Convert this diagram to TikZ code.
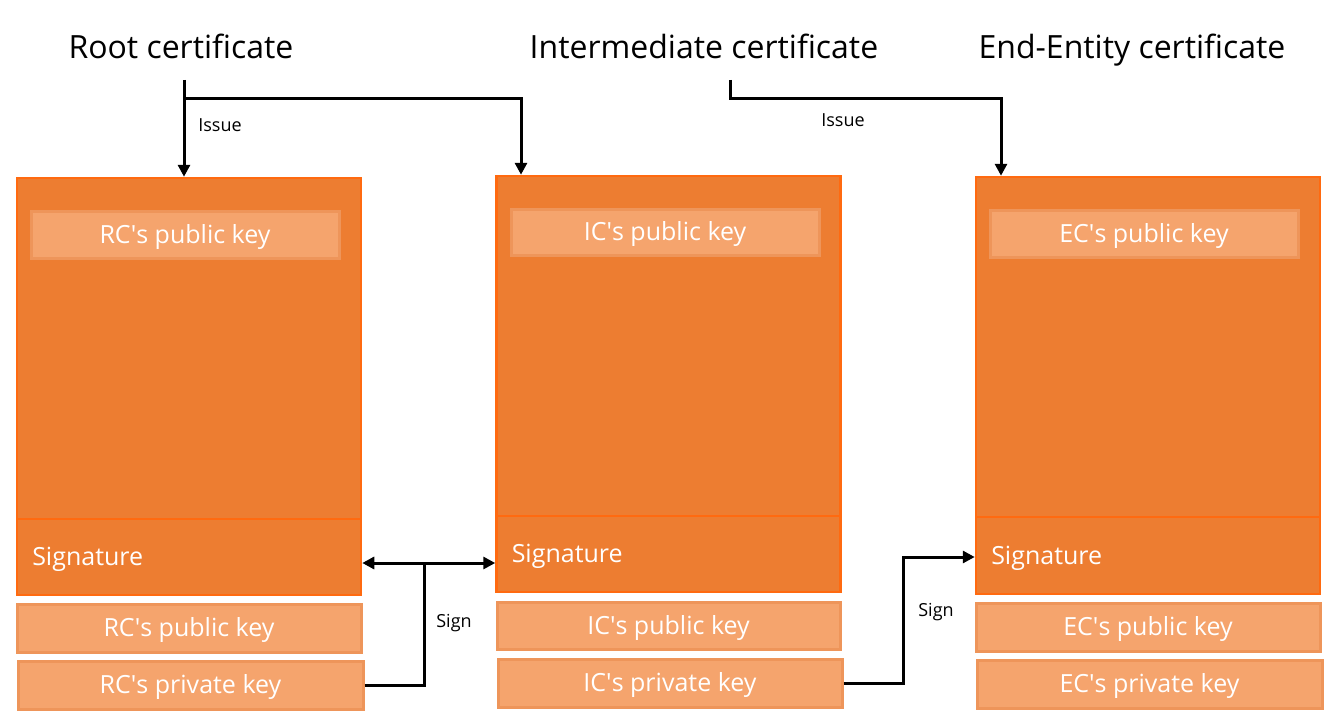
\documentclass[tikz,border=0pt]{standalone}
\usepackage{fontspec}
\setmainfont{Open Sans}
\usetikzlibrary{arrows.meta,positioning}
\definecolor{certorange}{HTML}{ED7D31}
\definecolor{certedge}{HTML}{FF6A10}
\definecolor{keyfill}{HTML}{F5A46D}
\definecolor{keyedge}{HTML}{EE955A}
\tikzset{
  certbody/.style={draw=certedge, line width=2.5pt, fill=certorange, minimum width=344pt, inner sep=0pt},
  keybox/.style={draw=keyedge, line width=3pt, fill=keyfill, text=white, font=\fontsize{25}{28}\selectfont,
    text height=18pt, text depth=1pt, inner sep=0pt},
  title/.style={font=\fontsize{32}{36}\selectfont, text height=23pt, text depth=7pt, inner sep=0pt},
  arr/.style={line width=3pt, -{Triangle[width=12pt,length=12pt]}},
  lbl/.style={font=\fontsize{18}{20}\selectfont, inner sep=0pt}
}

\begin{document}
\begin{tikzpicture}[x=1pt,y=-1pt]
   \useasboundingbox (0,0) rectangle (1344,717);
   % certificates
   \begin{scope}
    \node[certbody, minimum height=341pt] (rcbody) at (189,348.5) {};
    \node[certbody, minimum height=76pt]  (rcsig)  at (189,557) {};
    \node[certbody, minimum height=340pt] (icbody) at (668.5,346) {};
    \node[certbody, minimum height=76pt]  (icsig)  at (668.5,554) {};
    \node[certbody, minimum height=340pt] (ecbody) at (1148,347) {};
    \node[certbody, minimum height=77pt]  (ecsig)  at (1148,555.5) {};
   \end{scope}
   % signatures
   \node[keybox, draw=none, fill=none, anchor=west] at ([xshift=15pt]rcsig.west) {Signature};
   \node[keybox, draw=none, fill=none, anchor=west] at ([xshift=15pt]icsig.west) {Signature};
   \node[keybox, draw=none, fill=none, anchor=west] at ([xshift=15pt]ecsig.west) {Signature};
   % keys
   \node[keybox, minimum width=308pt, minimum height=47pt] (rcpubin) at (185,234.5) {RC\textquotesingle s public key};
   \node[keybox, minimum width=308pt, minimum height=46pt] (icpubin) at (665,232) {IC\textquotesingle s public key};
   \node[keybox, minimum width=308pt, minimum height=47pt] (ecpubin) at (1144,233.5) {EC\textquotesingle s public key};
   \node[keybox, minimum width=344pt, minimum height=48pt] (rcpub)  at (189,628) {RC\textquotesingle s public key};
   \node[keybox, minimum width=345pt, minimum height=48pt] (rcpriv) at (190.5,685) {RC\textquotesingle s private key};
   \node[keybox, minimum width=343pt, minimum height=47pt] (icpub)  at (668.5,625.5) {IC\textquotesingle s public key};
   \node[keybox, minimum width=344pt, minimum height=48pt] (icpriv) at (670,683) {IC\textquotesingle s private key};
   \node[keybox, minimum width=344pt, minimum height=48pt] (ecpub)  at (1148,627) {EC\textquotesingle s public key};
   \node[keybox, minimum width=345pt, minimum height=48pt] (ecpriv) at (1149.5,684) {EC\textquotesingle s private key};
   % titles
   \node[title] (rt) at (181,51) {Root certificate};
   \node[title] (it) at (704,51) {Intermediate certificate};
   \node[title] (et) at (1132,51) {End-Entity certificate};
   % issue
   \coordinate (rtfoot) at (184,80);
   \coordinate (rtbend) at (184,98);
   \coordinate (itfoot) at (730,80);
   \coordinate (itbend) at (730,98);
   \draw[arr] (rtfoot) -- (rtfoot |- rcbody.north);
   \draw[arr] (rtbend) -| (521,0 |- icbody.north);
   \draw[arr] (itfoot) -- (itbend) -| (1001,0 |- ecbody.north);
   \node[lbl] at (220,125) {Issue};
   \node[lbl] at (843,120) {Issue};
   % sign
   \coordinate (rcsignpt) at (424,563);
   \draw[arr, {Triangle[width=12pt,length=12pt]}-{Triangle[width=12pt,length=12pt]}] (rcsig.east |- rcsignpt) -- (icsig.west |- rcsignpt);
   \draw[line width=3pt] (rcpriv.east) -| (rcsignpt);
   \coordinate (icsignpt) at (903,557);
   \draw[arr] (icpriv.east) -| (icsignpt) -- (ecsig.west |- icsignpt);
   \node[lbl] at (454,623) {Sign};
   \node[lbl] at (936,612) {Sign};
\end{tikzpicture}
\end{document}
